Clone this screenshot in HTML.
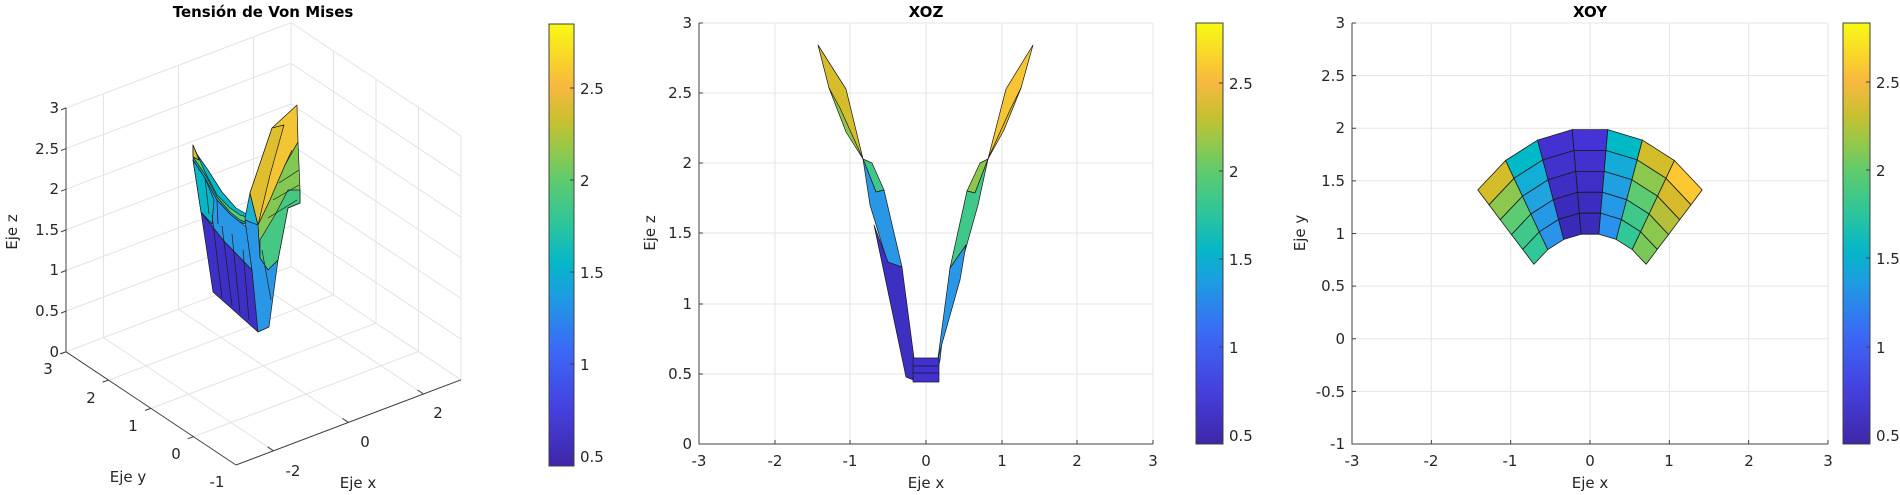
<!DOCTYPE html>
<html><head><meta charset="utf-8">
<style>
html,body{margin:0;padding:0;background:#fff;width:1900px;height:495px;overflow:hidden}
svg{display:block;font-family:"DejaVu Sans","Liberation Sans",sans-serif;}
.t{font-size:15px;fill:#262626}
.ti{font-size:15px;font-weight:bold;fill:#000}
</style></head><body>
<svg id="s" width="1900" height="495" viewBox="0 0 1900 495" xmlns="http://www.w3.org/2000/svg">
<defs>
<linearGradient id="par" x1="0" y1="1" x2="0" y2="0">
<stop offset="0" stop-color="#3e26a8"/>
<stop offset="0.13" stop-color="#4541de"/>
<stop offset="0.27" stop-color="#3a6cf6"/>
<stop offset="0.38" stop-color="#1e9be2"/>
<stop offset="0.46" stop-color="#06b7c8"/>
<stop offset="0.55" stop-color="#2ec59a"/>
<stop offset="0.65" stop-color="#60cb6c"/>
<stop offset="0.72" stop-color="#98c848"/>
<stop offset="0.78" stop-color="#c8c030"/>
<stop offset="0.86" stop-color="#f8b840"/>
<stop offset="0.92" stop-color="#f9d42a"/>
<stop offset="1" stop-color="#f8fa14"/>
</linearGradient>
</defs>
<g id="g3d"></g>
<g id="gxoy"></g>

<text class="ti" x="263" y="17" text-anchor="middle">Tensión de Von Mises</text>
<g class="t" text-anchor="end">
<text x="59" y="357">0</text><text x="59" y="316">0.5</text><text x="59" y="275">1</text>
<text x="59" y="235">1.5</text><text x="59" y="194">2</text><text x="59" y="154">2.5</text><text x="59" y="113">3</text>
</g>
<g class="t" text-anchor="middle">
<text x="48" y="374">3</text><text x="91" y="403">2</text><text x="133" y="431">1</text>
<text x="176" y="459">0</text><text x="217" y="487">-1</text>
<text x="293" y="476">-2</text><text x="365" y="447">0</text><text x="438" y="418">2</text>
<text x="128" y="482">Eje y</text><text x="358" y="488">Eje x</text>
</g>
<text class="t" transform="translate(17,232) rotate(-90)" text-anchor="middle">Eje z</text>

<g stroke="#1a1a1a" stroke-width="0.7" stroke-linejoin="round">
<polygon points="201,212 213,292 258,332 262,300 252,270 223,240" fill="#3e30c4"/>
<polygon points="193,160 201,212 223,240 252,270 253,232 240,222 230,214 217,200 205,178" fill="#2a96e6"/>
<polygon points="193,160 201,212 212,224 214,200 205,178" fill="#08b6c9"/>
<polygon points="193,160 205,178 217,200 230,214 240,222 250,226 250,216 236,208 222,192 208,170 194,150" fill="#08b6c9"/>
<polygon points="193,145 205,172 217,195 230,208 240,215 250,218 250,224 240,220 230,212 217,197 206,176 193,157" fill="#62c96c"/>
<polygon points="193,145 199,160 193,157" fill="#d8bd2c"/>
<polygon points="245,218 250,193 258,225 260,258 252,270" fill="#1eb0d0"/>
<polygon points="250,193 272,128 297,105 298,142 285,165 270,200 258,225" fill="#f2c534"/>
<polygon points="250,193 272,128 284,125 270,175 258,225" fill="#e0bf2e"/>
<polygon points="258,225 270,200 285,165 298,142 300,190 300,203 288,208 278,260 268,270 260,258" fill="#82c852"/>
<polygon points="260,240 275,215 288,190 300,190 300,203 288,208 278,260 268,270 260,258" fill="#46c884"/>
<polygon points="245,220 258,225 260,258 268,270 278,260 269,327 258,332 252,270" fill="#2a96e6"/>
<polyline fill="none" points="212,215 222,298"/><polyline fill="none" points="222,226 232,306"/>
<polyline fill="none" points="232,234 240,313"/><polyline fill="none" points="243,250 249,320"/>
<polyline fill="none" points="205,178 209,214"/><polyline fill="none" points="217,200 218,224"/>
<polyline fill="none" points="285,165 292,150"/><polyline fill="none" points="279,183 299,170"/>
<polyline fill="none" points="273,200 299,185"/><polyline fill="none" points="268,218 297,200"/>
<polyline fill="none" points="262,250 271,300"/>
</g>

<rect x="549" y="24" width="25" height="442" fill="url(#par)" stroke="#404040" stroke-width="1"/>
<g stroke="#404040"><line x1="574" y1="88" x2="570" y2="88"/><line x1="574" y1="180" x2="570" y2="180"/><line x1="574" y1="272" x2="570" y2="272"/><line x1="574" y1="364" x2="570" y2="364"/><line x1="574" y1="456" x2="570" y2="456"/></g>
<g class="t"><text x="580" y="94">2.5</text><text x="580" y="186">2</text><text x="580" y="278">1.5</text><text x="580" y="370">1</text><text x="580" y="462">0.5</text></g>

<g stroke="#e5e5e5" stroke-width="1">
<line x1="775" y1="23" x2="775" y2="444"/><line x1="850" y1="23" x2="850" y2="444"/><line x1="926" y1="23" x2="926" y2="444"/>
<line x1="1002" y1="23" x2="1002" y2="444"/><line x1="1077" y1="23" x2="1077" y2="444"/><line x1="1153" y1="23" x2="1153" y2="444"/>
<line x1="699" y1="23" x2="1153" y2="23"/><line x1="699" y1="93" x2="1153" y2="93"/><line x1="699" y1="163" x2="1153" y2="163"/>
<line x1="699" y1="233" x2="1153" y2="233"/><line x1="699" y1="304" x2="1153" y2="304"/><line x1="699" y1="374" x2="1153" y2="374"/>
</g>
<g stroke="#1a1a1a" stroke-width="0.7" stroke-linejoin="round">
<polygon points="818,45 846,89 863,159 829,88" fill="#d5bd2b"/>
<polygon points="829,88 840,108 863,159 846,132" fill="#8ec64a"/>
<polygon points="863,159 872,163 884,190 876,192" fill="#40c88a"/>
<polygon points="863,159 876,192 884,190 902,267 888,264 870,205" fill="#2a96e6"/>
<polygon points="874,225 888,262 902,267 914,358 916,381 906,377" fill="#3d2fc2"/>
<polygon points="1033,45 1006,89 988,159 1021,88" fill="#f6c534"/>
<polygon points="1021,88 1010,110 988,159 1004,130" fill="#dcbe2c"/>
<polygon points="988,159 980,163 967,191 975,193" fill="#8cc84e"/>
<polygon points="988,159 975,193 967,191 950,268 962,262 978,205" fill="#40c88a"/>
<polygon points="950,268 966,245 962,262 938,358 935,382 940,360" fill="#2a96e6"/>
<polygon points="966,245 950,268 938,358 960,280" fill="#2a96e6"/>
<rect x="913" y="358" width="26" height="24" fill="#4131d0"/>
<line x1="913" y1="366" x2="939" y2="366"/><line x1="913" y1="373" x2="939" y2="373"/>
</g>
<g stroke="#404040" stroke-width="1" fill="none">
<polyline points="699,23 699,444 1153,444"/>
<line x1="699" y1="93" x2="703" y2="93"/><line x1="699" y1="163" x2="703" y2="163"/><line x1="699" y1="233" x2="703" y2="233"/><line x1="699" y1="304" x2="703" y2="304"/><line x1="699" y1="374" x2="703" y2="374"/><line x1="699" y1="23" x2="703" y2="23"/>
<line x1="775" y1="444" x2="775" y2="440"/><line x1="850" y1="444" x2="850" y2="440"/><line x1="926" y1="444" x2="926" y2="440"/><line x1="1002" y1="444" x2="1002" y2="440"/><line x1="1077" y1="444" x2="1077" y2="440"/><line x1="1153" y1="444" x2="1153" y2="440"/>
</g>
<g class="t" text-anchor="end">
<text x="692" y="449">0</text><text x="692" y="379">0.5</text><text x="692" y="309">1</text><text x="692" y="238">1.5</text><text x="692" y="168">2</text><text x="692" y="98">2.5</text><text x="692" y="28">3</text>
</g>
<g class="t" text-anchor="middle">
<text x="699" y="466">-3</text><text x="775" y="466">-2</text><text x="850" y="466">-1</text><text x="926" y="466">0</text><text x="1002" y="466">1</text><text x="1077" y="466">2</text><text x="1153" y="466">3</text>
<text x="926" y="488">Eje x</text>
</g>
<text class="ti" x="926" y="17" text-anchor="middle">XOZ</text>
<text class="t" transform="translate(655,233) rotate(-90)" text-anchor="middle">Eje z</text>
<rect x="1196" y="23" width="27" height="421" fill="url(#par)" stroke="#404040"/>
<g stroke="#404040"><line x1="1223" y1="83" x2="1219" y2="83"/><line x1="1223" y1="171" x2="1219" y2="171"/><line x1="1223" y1="259" x2="1219" y2="259"/><line x1="1223" y1="347" x2="1219" y2="347"/><line x1="1223" y1="435" x2="1219" y2="435"/></g>
<g class="t"><text x="1229" y="89">2.5</text><text x="1229" y="177">2</text><text x="1229" y="265">1.5</text><text x="1229" y="353">1</text><text x="1229" y="441">0.5</text></g>

<g class="t" text-anchor="end">
<text x="1345" y="449">-1</text><text x="1345" y="397">-0.5</text><text x="1345" y="344">0</text><text x="1345" y="291">0.5</text><text x="1345" y="239">1</text><text x="1345" y="186">1.5</text><text x="1345" y="133">2</text><text x="1345" y="81">2.5</text><text x="1345" y="28">3</text>
</g>
<g class="t" text-anchor="middle">
<text x="1352" y="466">-3</text><text x="1431" y="466">-2</text><text x="1510" y="466">-1</text><text x="1590" y="466">0</text><text x="1669" y="466">1</text><text x="1749" y="466">2</text><text x="1828" y="466">3</text>
<text x="1590" y="488">Eje x</text>
</g>
<text class="ti" x="1590" y="17" text-anchor="middle">XOY</text>
<text class="t" transform="translate(1305,233) rotate(-90)" text-anchor="middle">Eje y</text>
<rect x="1843" y="23" width="27" height="421" fill="url(#par)" stroke="#404040"/>
<g stroke="#404040"><line x1="1870" y1="82" x2="1866" y2="82"/><line x1="1870" y1="170" x2="1866" y2="170"/><line x1="1870" y1="258" x2="1866" y2="258"/><line x1="1870" y1="347" x2="1866" y2="347"/><line x1="1870" y1="435" x2="1866" y2="435"/></g>
<g class="t"><text x="1876" y="88">2.5</text><text x="1876" y="176">2</text><text x="1876" y="264">1.5</text><text x="1876" y="353">1</text><text x="1876" y="441">0.5</text></g>
</svg>
<script>
(function(){
var NS="http://www.w3.org/2000/svg";
function el(p,t,a){var e=document.createElementNS(NS,t);for(var k in a)e.setAttribute(k,a[k]);p.appendChild(e);return e;}
var g=document.getElementById('g3d');
function P(x,y,z){return [236+(x+3)*37.5-(y+1)*42.5, 465-(x+3)*14.2-(y+1)*28.3-z*81.3];}
function L(a,b,c){el(g,'line',{x1:a[0],y1:a[1],x2:b[0],y2:b[1],stroke:c||'#e3e3e3','stroke-width':1});}
var z;
for(z=0;z<=3.001;z+=0.5){L(P(-3,3,z),P(3,3,z));L(P(3,-1,z),P(3,3,z));}
[-2,0,2,3].forEach(function(x){L(P(x,3,0),P(x,3,3));});
[-1,0,1,2].forEach(function(y){L(P(3,y,0),P(3,y,3));});
[-2,0,2].forEach(function(x){L(P(x,-1,0),P(x,3,0));});
[0,1,2].forEach(function(y){L(P(-3,y,0),P(3,y,0));});
L(P(-3,3,0),P(-3,3,3),'#404040');L(P(-3,3,0),P(-3,-1,0),'#404040');L(P(-3,-1,0),P(3,-1,0),'#404040');
for(z=0;z<=3.001;z+=0.5){var a=P(-3,3,z);L(a,[a[0]-5,a[1]+2],'#404040');}
[0,1,2,3].forEach(function(y){var a=P(-3,y,0);L(a,[a[0]-6,a[1]+2],'#404040');});
[-2,0,2].forEach(function(x){var a=P(x,-1,0);L(a,[a[0]-6,a[1]-4],'#404040');});
var h=document.getElementById('gxoy');
function Q(x,y){return [1352+(x+3)*79.33,444-(y+1)*105.25];}
var gx=[-2,-1,0,1,2,3],gy=[-0.5,0,0.5,1,1.5,2,2.5,3];
gx.forEach(function(v){var a=Q(v,-1),b=Q(v,3);el(h,'line',{x1:a[0],y1:a[1],x2:b[0],y2:b[1],stroke:'#e5e5e5'});});
gy.forEach(function(v){var a=Q(-3,v),b=Q(3,v);el(h,'line',{x1:a[0],y1:a[1],x2:b[0],y2:b[1],stroke:'#e5e5e5'});});
var C=[
["#d4bd2a","#8cc84e","#5ccb72","#3fc88a","#32c796"],
["#00b9c6","#12aed6","#21a3df","#2699e6","#2c93ea"],
["#4431d2","#4232cc","#3e2ec4","#3b2bbd","#3a2ab8"],
["#4433d6","#4231ce","#3f2fc6","#3d2dbe","#3b2bb8"],
["#00b9c6","#14abd8","#20a0e0","#2598e6","#2a92ec"],
["#d4bd2a","#8cc84e","#5ccb72","#3fc88a","#32c796"],
["#fcc832","#d8bb2c","#b5c03a","#8cc84e","#78c85a"]];
function N(j,i){var th=(135-j*90/7)*Math.PI/180,r=2-0.2*i;return Q(r*Math.cos(th),r*Math.sin(th));}
for(var j=0;j<7;j++)for(var i=0;i<5;i++){
var p=[N(j,i),N(j+1,i),N(j+1,i+1),N(j,i+1)];
el(h,'polygon',{points:p.map(function(q){return q[0].toFixed(1)+','+q[1].toFixed(1);}).join(' '),fill:C[j][i],stroke:'#1a1a1a','stroke-width':0.8});
}
var ax=Q(-3,3),o=Q(-3,-1),bx=Q(3,-1);
el(h,'polyline',{points:ax[0]+','+ax[1]+' '+o[0]+','+o[1]+' '+bx[0]+','+bx[1],fill:'none',stroke:'#404040'});
[-3,-2,-1,0,1,2,3].forEach(function(v){var a=Q(v,-1);el(h,'line',{x1:a[0],y1:a[1],x2:a[0],y2:a[1]-4,stroke:'#404040'});});
[-1,-0.5,0,0.5,1,1.5,2,2.5,3].forEach(function(v){var a=Q(-3,v);el(h,'line',{x1:a[0],y1:a[1],x2:a[0]+4,y2:a[1],stroke:'#404040'});});
})();
</script>
</body></html>
